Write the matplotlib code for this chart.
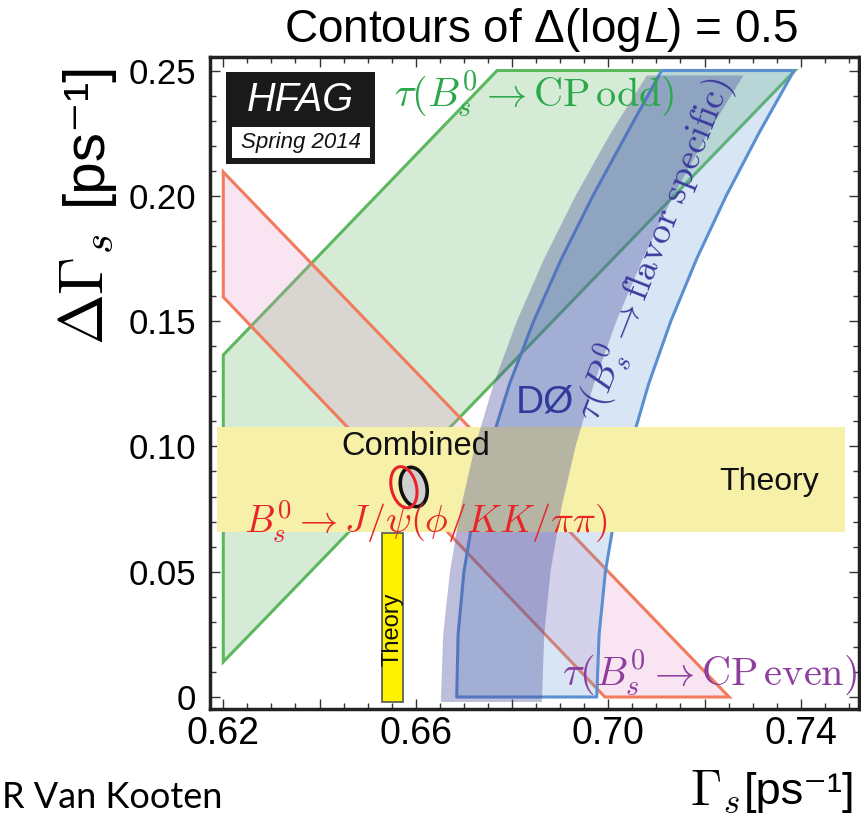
import numpy as np
import matplotlib
matplotlib.use("Agg")
import matplotlib.pyplot as plt
from matplotlib.patches import Polygon, Rectangle, Ellipse
from matplotlib.transforms import ScaledTranslation
from matplotlib.ticker import MultipleLocator, FixedLocator, FuncFormatter

plt.rcParams["font.family"] = ["Liberation Sans", "DejaVu Sans"]
plt.rcParams["mathtext.fontset"] = "cm"

# ---------------------------------------------------------------- data
# tau(Bs -> CP odd) band, vertices (Gamma_s, DeltaGamma_s)
cp_odd_gamma = [0.6200, 0.6200, 0.6769, 0.7388]
cp_odd_dgamma = [0.0140, 0.1365, 0.2500, 0.2500]

# tau(Bs -> CP even) band
cp_even_gamma = [0.6200, 0.7251, 0.6993, 0.6200]
cp_even_dgamma = [0.2095, 0.0000, 0.0000, 0.1596]

# tau(Bs -> flavour specific) band, world average: edges sampled in DeltaGamma_s
fs_dgamma = [0.000, 0.025, 0.050, 0.075, 0.100, 0.125, 0.150, 0.175, 0.200, 0.225, 0.250]
fs_gamma_lo = [0.6685, 0.6688, 0.6700, 0.6722, 0.6754, 0.6795, 0.6845, 0.6903,
               0.6968, 0.7039, 0.7111]
fs_gamma_hi = [0.6976, 0.6981, 0.6994, 0.7016, 0.7046, 0.7084, 0.7130, 0.7184,
               0.7245, 0.7313, 0.7386]

# D0 flavour-specific band
d0_dgamma = [-0.002, 0.025, 0.050, 0.075, 0.100, 0.125, 0.150, 0.175, 0.200, 0.225, 0.248]
d0_gamma_lo = [0.6652, 0.6657, 0.6671, 0.6693, 0.6723, 0.6762, 0.6810, 0.6867,
               0.6932, 0.7005, 0.7080]
d0_gamma_hi = [0.6862, 0.6867, 0.6880, 0.6902, 0.6932, 0.6970, 0.7017, 0.7072,
               0.7135, 0.7207, 0.7281]

# theory predictions
theory_dgamma_band = (0.0660, 0.1079)      # DeltaGamma_s range
theory_gamma_span = (0.6187, 0.7492)
theory_gamma_bar = (0.6529, 0.6573)        # Gamma_s range
theory_dgamma_span = (-0.0021, 0.0655)

# Delta(logL)=0.5 contours: centre (Gamma_s, DeltaGamma_s)
jpsi_centre = (0.65753, 0.0837)
comb_centre = (0.65958, 0.0838)

x_major = [0.62, 0.64, 0.66, 0.68, 0.70, 0.72, 0.74]
y_major = [0.0, 0.05, 0.10, 0.15, 0.20, 0.25]

# ---------------------------------------------------------------- figure
fig = plt.figure(figsize=(8.62, 8.17), dpi=100)
ax = fig.add_axes([0.24362, 0.13219, 0.75290, 0.79841])
ax.set_xlim(0.61724, 0.75210)
ax.set_ylim(-0.00479, 0.25551)

# CP odd
ax.add_patch(Polygon(np.column_stack([cp_odd_gamma, cp_odd_dgamma]), closed=True,
                     facecolor=(0.47, 0.75, 0.47, 0.30), edgecolor="#5cb85f",
                     linewidth=2.2, zorder=1))
# CP even
ax.add_patch(Polygon(np.column_stack([cp_even_gamma, cp_even_dgamma]), closed=True,
                     facecolor=(0.90, 0.55, 0.78, 0.22), edgecolor="#f07c5c",
                     linewidth=2.2, zorder=2))

# flavour specific (world average)
fs_x = list(fs_gamma_lo) + list(fs_gamma_hi[::-1])
fs_y = list(fs_dgamma) + list(fs_dgamma[::-1])
ax.add_patch(Polygon(np.column_stack([fs_x, fs_y]), closed=True,
                     facecolor=(0.40, 0.60, 0.84, 0.25), edgecolor="#5a8fd2",
                     linewidth=2.2, joinstyle="round", zorder=3))

# theory band in DeltaGamma_s
ax.add_patch(Rectangle((theory_gamma_span[0], theory_dgamma_band[0]),
                       theory_gamma_span[1] - theory_gamma_span[0],
                       theory_dgamma_band[1] - theory_dgamma_band[0],
                       facecolor="#f6f0a9", edgecolor="none", zorder=4))

# D0 band
d0_x = list(d0_gamma_lo) + list(d0_gamma_hi[::-1])
d0_y = list(d0_dgamma) + list(d0_dgamma[::-1])
ax.add_patch(Polygon(np.column_stack([d0_x, d0_y]), closed=True,
                     facecolor=(0.28, 0.30, 0.61, 0.36), edgecolor="none", zorder=5))

# theory bar in Gamma_s
ax.add_patch(Rectangle((theory_gamma_bar[0], theory_dgamma_span[0]),
                       theory_gamma_bar[1] - theory_gamma_bar[0],
                       theory_dgamma_span[1] - theory_dgamma_span[0],
                       facecolor="#fff200", edgecolor="#555555", linewidth=1.2, zorder=6))
ax.text(0.5 * sum(theory_gamma_bar), 0.0271, "Theory", rotation=90, fontsize=17,
        ha="center", va="center", color="#111111", zorder=9)

# likelihood contours
def contour(centre, w, h, ang, **kw):
    tr = fig.dpi_scale_trans + ScaledTranslation(centre[0], centre[1], ax.transData)
    ax.add_patch(Ellipse((0, 0), w, h, angle=ang, transform=tr, **kw))

contour(comb_centre, 0.26, 0.40, 14, facecolor="#cfcfcf", edgecolor="#111111",
        linewidth=2.6, zorder=7)
contour(jpsi_centre, 0.25, 0.42, 14, facecolor="none", edgecolor="#e8232a",
        linewidth=2.2, zorder=8)

# labels inside the plot
ax.text(0.65994, 0.0966, "Combined", fontsize=23.5, ha="center", va="baseline",
        color="#111111", zorder=9)
ax.text(0.68685, 0.1134, "DØ", fontsize=28, ha="center", va="baseline",
        color="#2e3b9c", zorder=9)
ax.text(0.73339, 0.0826, "Theory", fontsize=23, ha="center", va="baseline",
        color="#111111", zorder=9)
ax.text(0.66212, 0.0654, r"$B_s^0\rightarrow J/\psi(\phi/KK/\pi\pi)$", fontsize=27.5,
        ha="center", va="baseline", color="#e8262a", zorder=9)
ax.text(0.68455, 0.2356, r"$\tau(B_s^0\rightarrow \mathrm{CP\,odd})$", fontsize=29,
        ha="center", va="baseline", color="#2aa84a", zorder=9)
ax.text(0.72093, 0.0048, r"$\tau(B_s^0\rightarrow \mathrm{CP\,even})$", fontsize=29,
        ha="center", va="baseline", color="#8e3e9e", zorder=9)
ax.text(0.70950, 0.1784, r"$\tau(B_s^0\rightarrow \mathrm{flavor\ specific})$",
        fontsize=27, rotation=68.5, rotation_mode="anchor", ha="center", va="center",
        color="#3d3a9e", zorder=9)

# HFAG stamp
ax.add_patch(Rectangle((0.02465, 0.8355), 0.2296, 0.1415, transform=ax.transAxes,
                       facecolor="#1a1a1a", edgecolor="none", zorder=10))
ax.add_patch(Rectangle((0.0334, 0.8447), 0.2131, 0.0475, transform=ax.transAxes,
                       facecolor="white", edgecolor="none", zorder=11))
ax.text(0.1387, 0.9337, "HFAG", transform=ax.transAxes, fontsize=28.5, style="italic",
        ha="center", va="center", color="white", zorder=12)
ax.text(0.1400, 0.8677, "Spring 2014", transform=ax.transAxes, fontsize=16,
        style="italic", ha="center", va="center", color="#111111", zorder=12)

# axes styling
ax.xaxis.set_major_locator(FixedLocator(x_major))
ax.xaxis.set_minor_locator(MultipleLocator(0.005))
ax.yaxis.set_major_locator(FixedLocator(y_major))
ax.yaxis.set_minor_locator(MultipleLocator(0.01))
ax.xaxis.set_major_formatter(FuncFormatter(
    lambda v, p: f"{v:.2f}" if round(v * 100) % 4 == 2 else ""))
ax.yaxis.set_major_formatter(FuncFormatter(
    lambda v, p: "0" if abs(v) < 1e-9 else f"{v:.2f}"))
ax.tick_params(which="both", direction="in", top=True, right=True,
               color="#333333", width=1.0)
ax.tick_params(which="major", length=7)
ax.tick_params(which="minor", length=4)
ax.tick_params(axis="x", labelsize=27, pad=5)
ax.tick_params(axis="y", labelsize=25, pad=10)
for sp in ax.spines.values():
    sp.set_linewidth(2.5)
    sp.set_color("#222222")

# axis titles
fig.text(0.1195, 0.5777, r"$\Delta\Gamma_s$", rotation=90, rotation_mode="anchor",
         fontsize=44, ha="left", va="baseline")
fig.text(0.1170, 0.7490, "[ps⁻¹]", rotation=90, rotation_mode="anchor",
         fontsize=42, ha="left", va="baseline")
fig.text(0.8005, 0.0159, r"$\Gamma_s$", fontsize=36, ha="left", va="baseline")
fig.text(0.8625, 0.0159, "[ps⁻¹]", fontsize=32.5, ha="left", va="baseline")
fig.text(0.6276, 0.9486, r"Contours of Δ(log$L$) = 0.5", fontsize=33, ha="center",
         va="baseline", math_fontfamily="stixsans")
fig.text(0.002, 0.004, "R Van Kooten", fontsize=26, ha="left", va="bottom",
         family=["Lato", "DejaVu Sans"])

fig.savefig("out.png", dpi=100)
